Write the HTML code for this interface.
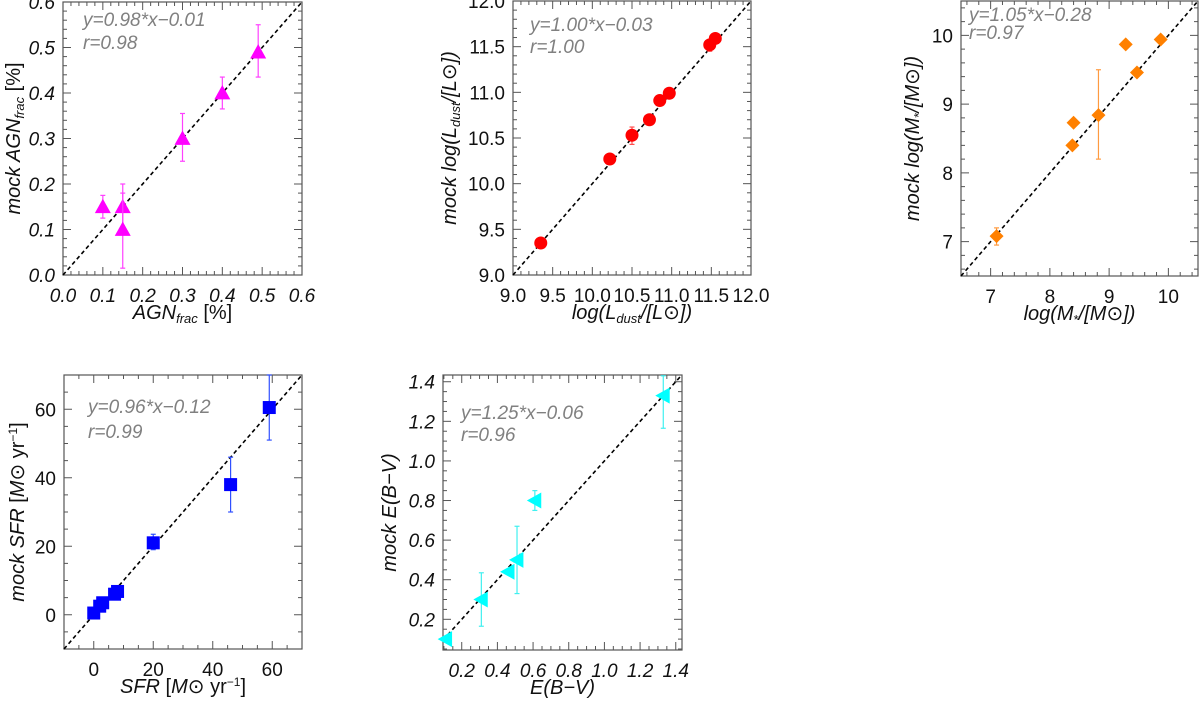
<!DOCTYPE html>
<html><head><meta charset="utf-8">
<style>
html,body{margin:0;padding:0;background:#fff;}
svg{display:block;}
text{font-family:"Liberation Sans",sans-serif;}
</style></head>
<body>
<svg id="fig" width="1200" height="701" viewBox="0 0 1200 701" xmlns="http://www.w3.org/2000/svg"></svg>
<script>
// ---- data ----
const agnX=[0.10,0.15,0.15,0.30,0.40,0.49];
const agnY=[0.15,0.15,0.10,0.30,0.40,0.49];
const agnLo=[0.125,0.10,0.015,0.25,0.365,0.435];
const agnHi=[0.175,0.20,0.18,0.355,0.435,0.55];
const ldX=[9.35,10.22,10.5,10.72,10.85,10.97,11.48,11.55];
const ldY=[9.35,10.27,10.53,10.70,10.91,10.99,11.52,11.59];
const ldLo=[9.35,10.27,10.43,10.70,10.91,10.99,11.45,11.59];
const ldHi=[9.35,10.27,10.62,10.70,10.91,10.99,11.55,11.59];
const msX=[7.1,8.38,8.4,8.82,9.28,9.47,9.87];
const msY=[7.08,8.4,8.73,8.84,9.87,9.46,9.94];
const msLo=[6.95,8.4,8.73,8.2,9.87,9.46,9.9];
const msHi=[7.2,8.4,8.73,9.5,9.87,9.46,9.98];
const sfrX=[0,2,3,7,8,20,46,59];
const sfrY=[0.5,2.5,3.5,6,6.8,21,38,60.5];
const sfrLo=[0.5,2.5,3.5,6,6.8,19,30,51];
const sfrHi=[0.5,2.5,3.5,6,6.8,23.5,46,70];
const ebvX=[0.11,0.31,0.46,0.51,0.61,1.33];
const ebvY=[0.10,0.30,0.44,0.50,0.80,1.33];
const ebvLo=[0.10,0.165,0.44,0.33,0.75,1.165];
const ebvHi=[0.10,0.435,0.44,0.67,0.85,1.43];

const NS='http://www.w3.org/2000/svg';
const svg=document.getElementById('fig');
function mk(tag,attrs,parent){const e=document.createElementNS(NS,tag);for(const k in attrs)e.setAttribute(k,attrs[k]);(parent||svg).appendChild(e);return e;}

function panel(o){
  const g=mk('g',{});
  
  
  const sx=v=>o.L+(v-o.x0)/(o.x1-o.x0)*(o.R-o.L);
  const sy=v=>o.B-(v-o.y0)/(o.y1-o.y0)*(o.B-o.T);
  const box=mk('rect',{x:o.L,y:o.T,width:o.R-o.L,height:o.B-o.T,fill:'none',stroke:'#555','stroke-width':1.2},g);
  
  
  const eps=1e-9;
  for(let v=Math.ceil((o.x0-eps)/o.xmin)*o.xmin; v<=o.x1+eps; v+=o.xmin){
    const major=Math.abs(v/o.xmaj-Math.round(v/o.xmaj))<1e-6; const len=major?8:4; const x=sx(v);
    mk('line',{x1:x,y1:o.B,x2:x,y2:o.B-len,stroke:'#555'},g);
    mk('line',{x1:x,y1:o.T,x2:x,y2:o.T+len,stroke:'#555'},g);
  }
  for(let v=Math.ceil((o.y0-eps)/o.ymin)*o.ymin; v<=o.y1+eps; v+=o.ymin){
    const major=Math.abs(v/o.ymaj-Math.round(v/o.ymaj))<1e-6; const len=major?8:4; const y=sy(v);
    mk('line',{x1:o.L,y1:y,x2:o.L+len,y2:y,stroke:'#555'},g);
    mk('line',{x1:o.R,y1:y,x2:o.R-len,y2:y,stroke:'#555'},g);
  }
  o.xt.forEach(v=>{const t=mk('text',{x:sx(v),y:o.B+27,'text-anchor':'middle','font-size':19,'font-style':o.ital?'italic':'normal',fill:'#111'},g);t.textContent=v.toFixed(o.xd);
    });
  o.yt.forEach(v=>{const t=mk('text',{x:o.L-8,y:sy(v)+7,'text-anchor':'end','font-size':19,'font-style':o.ital?'italic':'normal',fill:'#111'},g);t.textContent=v.toFixed(o.yd);
    });
  const xt=mk('text',{x:(o.L+o.R)/2,y:o.B+44,'text-anchor':'middle','font-size':20,fill:'#111','font-family':'Liberation Serif, serif'},g);xt.innerHTML=o.xlab;
  
  const yc=(o.T+o.B)/2;
  const yt=mk('text',{x:o.yx,y:yc,'text-anchor':'middle','font-size':20,fill:'#111','font-family':'Liberation Serif, serif',transform:`rotate(-90 ${o.yx} ${yc})`},g);yt.innerHTML=o.ylab;
  
  const a=Math.max(o.x0,o.y0), b=Math.min(o.x1,o.y1);
  const ln=mk('line',{x1:sx(a),y1:sy(a),x2:sx(b),y2:sy(b),stroke:'#000','stroke-width':1.6,'stroke-dasharray':'4,3'},g);
  
  o.ann.forEach((s,i)=>{const t=mk('text',{x:o.ax,y:o.ay+i*o.asp,'font-size':19,'font-style':'italic',fill:'#808080'},g);t.textContent=s;
    });
  o.X.forEach((xv,i)=>{
    const x=sx(xv), y=sy(o.Y[i]);
    if(o.Hi[i]-o.Lo[i]>0){
      const eb=mk('g',{stroke:o.ec,'stroke-width':1.2},g);
      
      mk('line',{x1:x,y1:sy(o.Lo[i]),x2:x,y2:sy(o.Hi[i])},eb);
      mk('line',{x1:x-2.5,y1:sy(o.Lo[i]),x2:x+2.5,y2:sy(o.Lo[i])},eb);
      mk('line',{x1:x-2.5,y1:sy(o.Hi[i]),x2:x+2.5,y2:sy(o.Hi[i])},eb);
    }
    let m; const s=o.size;
    if(o.shape=='tri') m=mk('polygon',{points:`${x-s},${y+s*0.8} ${x+s},${y+s*0.8} ${x},${y-s}`,fill:o.c},g);
    else if(o.shape=='circ') m=mk('circle',{cx:x,cy:y,r:s,fill:o.c},g);
    else if(o.shape=='dia') m=mk('polygon',{points:`${x},${y-s} ${x+s},${y} ${x},${y+s} ${x-s},${y}`,fill:o.c},g);
    else if(o.shape=='sq') m=mk('rect',{x:x-s,y:y-s,width:2*s,height:2*s,fill:o.c},g);
    else if(o.shape=='ltri') m=mk('polygon',{points:`${x-s},${y} ${x+s*0.8},${y-s} ${x+s*0.8},${y+s}`,fill:o.c},g);
    
  });
}

panel({name:'agn-frac-panel',L:63,R:302,T:2,B:275,x0:0,x1:0.6,y0:0,y1:0.6,xmaj:0.1,xmin:0.02,ymaj:0.1,ymin:0.02,
  xt:[0,0.1,0.2,0.3,0.4,0.5,0.6],yt:[0,0.1,0.2,0.3,0.4,0.5,0.6],xd:1,yd:1,ital:true,
  xlab:'<tspan font-style="italic">AGN</tspan><tspan font-style="italic" font-size="13" dy="4">frac</tspan><tspan dy="-4"> [%]</tspan>',
  ylab:'<tspan font-style="italic">mock  AGN</tspan><tspan font-style="italic" font-size="13" dy="4">frac</tspan><tspan dy="-4"> [%]</tspan>',
  yx:20,ax:83,ay:26,asp:23,ann:['y=0.98*x\u22120.01','r=0.98'],
  X:agnX,Y:agnY,Lo:agnLo,Hi:agnHi,shape:'tri',c:'#ff00ff',ec:'#ff40ff',size:8});

panel({name:'ldust-panel',L:513,R:751,T:1,B:275,x0:9,x1:12,y0:9,y1:12,xmaj:0.5,xmin:0.1,ymaj:0.5,ymin:0.1,
  xt:[9,9.5,10,10.5,11,11.5,12],yt:[9,9.5,10,10.5,11,11.5,12],xd:1,yd:1,ital:false,
  xlab:'<tspan font-style="italic">log(L</tspan><tspan font-style="italic" font-size="13" dy="4">dust</tspan><tspan font-style="italic" dy="-4">/[L</tspan><tspan>⊙</tspan><tspan font-style="italic">])</tspan>',
  ylab:'<tspan font-style="italic">mock  log(L</tspan><tspan font-style="italic" font-size="13" dy="4">dust</tspan><tspan font-style="italic" dy="-4">/[L</tspan><tspan>⊙</tspan><tspan font-style="italic">])</tspan>',
  yx:456,ax:530,ay:31,asp:22,ann:['y=1.00*x\u22120.03','r=1.00'],
  X:ldX,Y:ldY,Lo:ldLo,Hi:ldHi,shape:'circ',c:'#ff0000',ec:'#ff5050',size:6.5});

panel({name:'stellar-mass-panel',L:961,R:1198,T:1,B:276,x0:6.5,x1:10.5,y0:6.5,y1:10.5,xmaj:1,xmin:0.2,ymaj:1,ymin:0.2,
  xt:[7,8,9,10],yt:[7,8,9,10],xd:0,yd:0,ital:false,
  xlab:'<tspan font-style="italic">log(M</tspan><tspan font-size="13" dy="4">*</tspan><tspan font-style="italic" dy="-4">/[M</tspan><tspan>⊙</tspan><tspan font-style="italic">])</tspan>',
  ylab:'<tspan font-style="italic">mock  log(M</tspan><tspan font-size="13" dy="4">*</tspan><tspan font-style="italic" dy="-4">/[M</tspan><tspan>⊙</tspan><tspan font-style="italic">])</tspan>',
  yx:919,ax:969,ay:21,asp:18,ann:['y=1.05*x\u22120.28','r=0.97'],
  X:msX,Y:msY,Lo:msLo,Hi:msHi,shape:'dia',c:'#ff8000',ec:'#ff9a40',size:7});

panel({name:'sfr-panel',L:64,R:302,T:375,B:649,x0:-10,x1:70,y0:-10,y1:70,xmaj:20,xmin:5,ymaj:20,ymin:5,
  xt:[0,20,40,60],yt:[0,20,40,60],xd:0,yd:0,ital:false,
  xlab:'<tspan font-style="italic">SFR</tspan><tspan> [</tspan><tspan font-style="italic">M</tspan><tspan>⊙ yr</tspan><tspan font-size="12" dy="-7">−1</tspan><tspan dy="7">]</tspan>',
  ylab:'<tspan font-style="italic">mock  SFR</tspan><tspan> [</tspan><tspan font-style="italic">M</tspan><tspan>⊙ yr</tspan><tspan font-size="12" dy="-7">−1</tspan><tspan dy="7">]</tspan>',
  yx:24,ax:88,ay:413,asp:25,ann:['y=0.96*x\u22120.12','r=0.99'],
  X:sfrX,Y:sfrY,Lo:sfrLo,Hi:sfrHi,shape:'sq',c:'#0000ff',ec:'#3050ff',size:6.5});

panel({name:'ebv-panel',L:443,R:682,T:375,B:650,x0:0.095,x1:1.435,y0:0.045,y1:1.434,xmaj:0.2,xmin:0.05,ymaj:0.2,ymin:0.05,
  xt:[0.2,0.4,0.6,0.8,1.0,1.2,1.4],yt:[0.2,0.4,0.6,0.8,1.0,1.2,1.4],xd:1,yd:1,ital:true,
  xlab:'<tspan font-style="italic">E(B−V)</tspan>',
  ylab:'<tspan font-style="italic">mock  E(B−V)</tspan>',
  yx:396,ax:461,ay:419,asp:22,ann:['y=1.25*x\u22120.06','r=0.96'],
  X:ebvX,Y:ebvY,Lo:ebvLo,Hi:ebvHi,shape:'ltri',c:'#00ffff',ec:'#40f0f0',size:8});
</script>
</body></html>
